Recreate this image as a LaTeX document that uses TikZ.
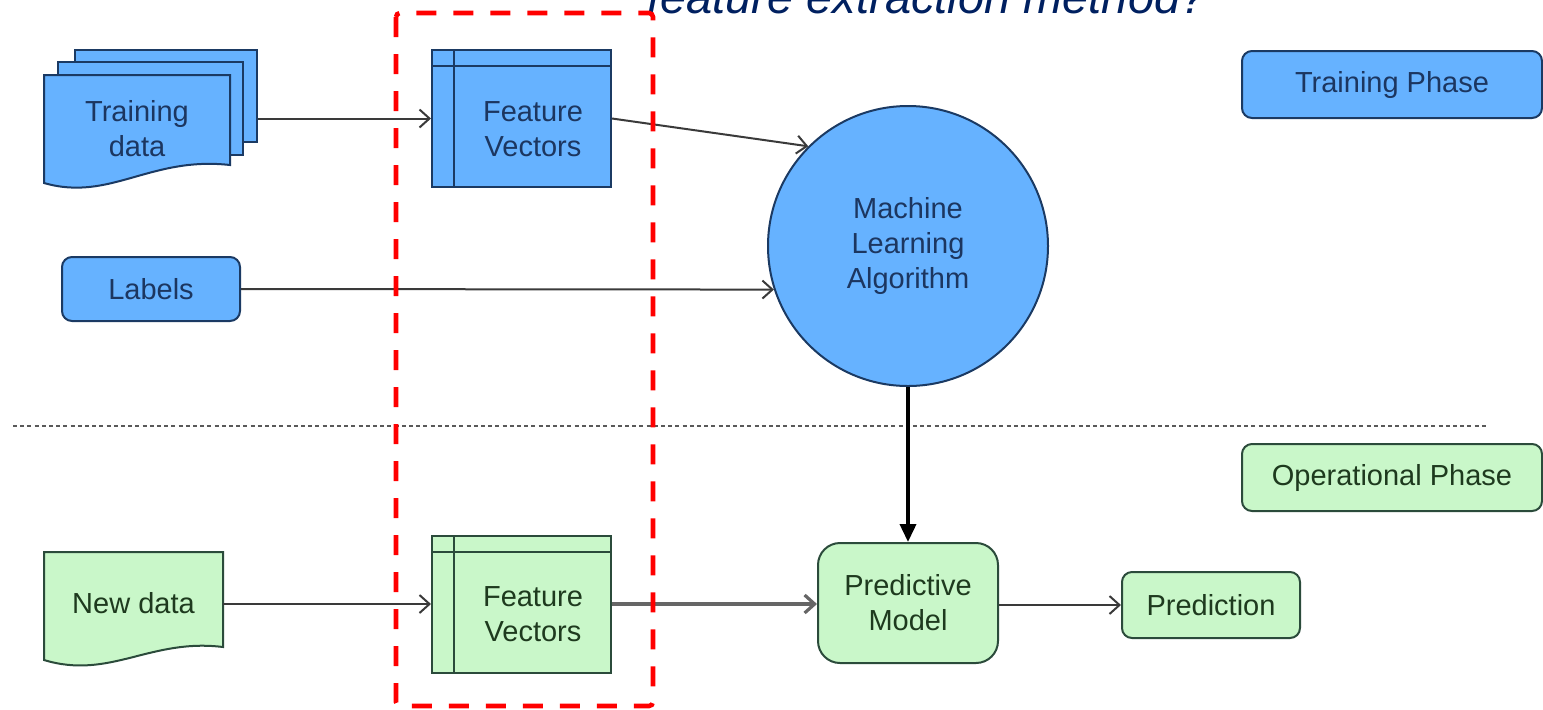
\documentclass[tikz,border=0pt]{standalone}
\usepackage{fontspec}
\setmainfont{Liberation Sans}
\usetikzlibrary{arrows.meta,calc}

\definecolor{bluefill}{HTML}{66B2FF}
\definecolor{blueline}{HTML}{1B3A63}
\definecolor{bluetext}{HTML}{1C3660}
\definecolor{greenfill}{HTML}{C9F7C9}
\definecolor{greenline}{HTML}{2B4B3B}
\definecolor{greentext}{HTML}{1E3A1E}
\definecolor{titleblue}{HTML}{002060}
\definecolor{arrowgrey}{HTML}{3A3A3A}

\tikzset{
  base/.style={inner sep=0pt, align=center, font=\fontsize{14.5pt}{17.5pt}\selectfont},
  bluenode/.style={base, draw=blueline, fill=bluefill, text=bluetext, line width=1pt},
  greennode/.style={base, draw=greenline, fill=greenfill, text=greentext, line width=1pt},
  roundbox/.style={rounded corners=5pt},
  sheet/.style={draw=blueline, fill=bluefill, line width=1pt, inner sep=0pt},
  plaintext/.style={base, draw=none, fill=none},
  fvbox/.style={minimum width=89.5pt, minimum height=68.5pt,
    path picture={
      \draw[line width=1pt] ([xshift=11pt]path picture bounding box.north west)
        -- ([xshift=11pt]path picture bounding box.south west);
      \draw[line width=1pt] ([yshift=-8pt]path picture bounding box.north west)
        -- ([yshift=-8pt]path picture bounding box.north east);
    }},
  arr/.style={draw=arrowgrey, line width=1pt, -{Straight Barb[length=5pt,width=9pt]}},
  thickarr/.style={draw=black, line width=1.8pt, -{Triangle[length=9pt,width=8pt]}},
  sep/.style={draw=gray!70!black, line width=1.3pt, dash pattern=on 2pt off 1.6pt},
  focus/.style={draw=red, line width=2.3pt, dash pattern=on 10pt off 8.5pt, rounded corners=2pt},
}

\begin{document}
\begin{tikzpicture}[x=0.5pt, y=-0.5pt]
\useasboundingbox (0,0) rectangle (1543,709);
\clip (0,0) rectangle (1543,709);

% question heading, cut by the top edge
\node[anchor=base west, inner sep=0pt, text=titleblue,
      font=\fontsize{23.5pt}{28pt}\selectfont\itshape] (heading) at (647,13)
  {feature extraction method?};

% ---------- training phase ----------
% stack of training documents
\node[sheet, minimum width=91pt, minimum height=46pt] (trainback) at (166,96) {};
\node[sheet, minimum width=92.5pt, minimum height=46.5pt] (trainmid) at (150.5,108.5) {};
\draw[draw=blueline, fill=bluefill, line width=1pt]
  (44,75) -- (230,75) -- (230,165)
  .. controls (150,156) and (110,202) .. (44,183) -- cycle;
\node[plaintext, text=bluetext, minimum width=93pt, minimum height=54pt] (train) at (137,129) {Training\\data};

\node[bluenode, fvbox] (fv1) at (521.5,118.5) {};
\node[plaintext, text=bluetext] (fv1text) at (533,129) {Feature\\Vectors};

\node[bluenode, roundbox, minimum width=89pt, minimum height=32pt] (labels) at (151,289) {Labels};

\node[bluenode, circle, minimum size=140pt] (ml) at (908,246) {Machine\\Learning\\Algorithm};

\node[bluenode, roundbox, minimum width=150pt, minimum height=33.5pt] (trainphase) at (1392,84.5) {Training Phase};

\draw[arr] (trainback.east |- fv1.west) -- (fv1.west);
\draw[arr] (fv1.east) -- (ml.135);
\draw[arr] (labels.east) -- (ml.198);

% phase separator
\coordinate (sepL) at (13,426);
\coordinate (sepR) at (1488,426);
\draw[sep] (sepL) -- (sepR);

% ---------- operational phase ----------
\node[greennode, roundbox, minimum width=150pt, minimum height=33.5pt] (opphase) at (1392,477.5) {Operational Phase};

\draw[draw=greenline, fill=greenfill, line width=1pt]
  (44,552) -- (223,552) -- (223,647)
  .. controls (150,638) and (110,680) .. (44,660) -- cycle;
\node[plaintext, text=greentext, minimum width=89.5pt, minimum height=47.5pt] (newdata) at (133.5,603) {New data};

\node[greennode, fvbox] (fv2) at (521.5,604) {};
\node[plaintext, text=greentext] (fv2text) at (533,614) {Feature\\Vectors};

\node[greennode, rounded corners=11pt, minimum width=90pt, minimum height=60pt] (pm) at (908,603) {Predictive\\Model};
\node[greennode, roundbox, minimum width=89pt, minimum height=33pt] (pred) at (1211,605) {Prediction};

\draw[thickarr] (ml.south) -- (pm.north);
\draw[arr] (newdata.east |- fv2.west) -- (fv2.west);
\draw[arr, draw=gray!80!black, line width=1.6pt] (fv2.east) -- (fv2.east -| pm.west);
\draw[arr] (pm.east |- pred.west) -- (pred.west);

% feature-extraction stage highlighted
\coordinate (focusNW) at (396,13);
\coordinate (focusSE) at (653,706);
\draw[focus] (focusNW) rectangle (focusSE);
\end{tikzpicture}
\end{document}
